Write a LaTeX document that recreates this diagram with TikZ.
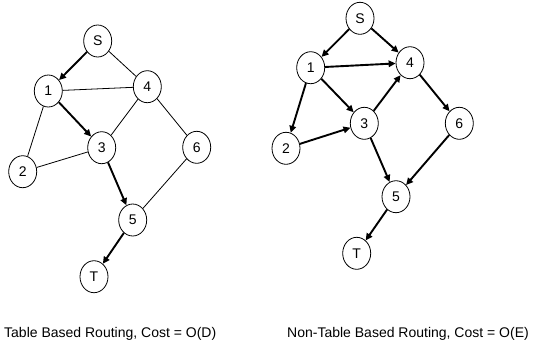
\documentclass[tikz,border=0pt]{standalone}
\usepackage{fontspec}
\setmainfont{Liberation Sans}
\usetikzlibrary{arrows.meta,shapes.geometric}
\tikzset{
  vertex/.style={draw, ellipse, line width=0.8pt, minimum width=28pt, minimum height=32pt, inner sep=0pt, font=\fontsize{14}{16}\selectfont},
  link/.style={line width=0.8pt},
  route/.style={line width=1.9pt, -{Triangle[length=7pt,width=6.5pt]}},
  caption/.style={anchor=base west, inner sep=0pt, font=\fontsize{14}{16}\selectfont}
}
\begin{document}
\begin{tikzpicture}[x=1pt,y=-1pt]
\useasboundingbox (0,0) rectangle (534,341);
% Table based routing graph
\node[vertex] (aS) at (97.7,41) {S};
\node[vertex] (a1) at (48.3,91) {1};
\node[vertex] (a4) at (147.3,86.7) {4};
\node[vertex] (a3) at (101.7,147.7) {3};
\node[vertex] (a6) at (196.7,147.3) {6};
\node[vertex] (a2) at (22.7,171.7) {2};
\node[vertex] (a5) at (132.7,220) {5};
\node[vertex] (aT) at (94,276.7) {T};
\draw[link] (aS) -- (a4);
\draw[link] (a1) -- (a4);
\draw[link] (a1) -- (a2);
\draw[link] (a4) -- (a3);
\draw[link] (a4) -- (a6);
\draw[link] (a2) -- (a3);
\draw[link] (a6) -- (a5);
\draw[route] (aS) -- (a1);
\draw[route] (a1) -- (a3);
\draw[route] (a3) -- (a5);
\draw[route] (a5) -- (aT);
% Non-table based routing graph
\node[vertex] (bS) at (360,18.3) {S};
\node[vertex] (b1) at (310.7,67.7) {1};
\node[vertex] (b4) at (410,62.7) {4};
\node[vertex] (b3) at (364.3,123.3) {3};
\node[vertex] (b6) at (459.3,123.3) {6};
\node[vertex] (b2) at (286,148.3) {2};
\node[vertex] (b5) at (396,196.7) {5};
\node[vertex] (bT) at (356.7,253.3) {T};
\draw[route] (bS) -- (b1);
\draw[route] (bS) -- (b4);
\draw[route] (b1) -- (b4);
\draw[route] (b1) -- (b2);
\draw[route] (b1) -- (b3);
\draw[route] (b2) -- (b3);
\draw[route] (b3) -- (b4);
\draw[route] (b4) -- (b6);
\draw[route] (b3) -- (b5);
\draw[route] (b6) -- (b5);
\draw[route] (b5) -- (bT);
% Captions
\node[caption] (capA) at (4,337) {Table Based Routing, Cost = O(D)};
\node[caption] (capB) at (287,337) {Non-Table Based Routing, Cost = O(E)};
\end{tikzpicture}
\end{document}
